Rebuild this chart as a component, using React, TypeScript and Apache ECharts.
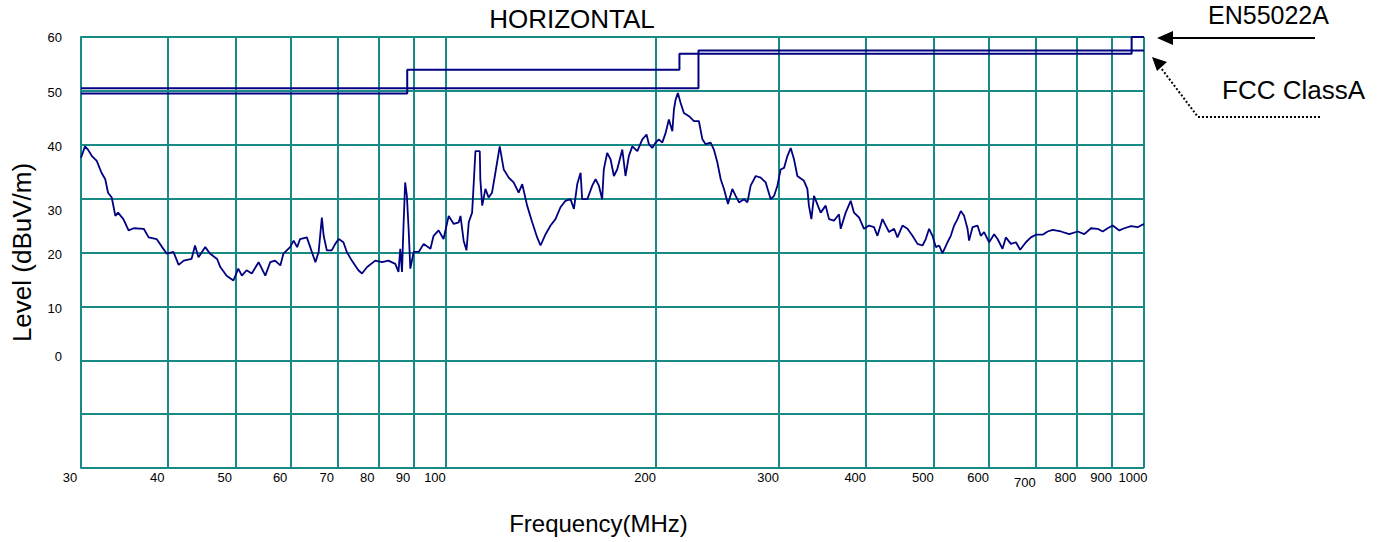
import React, { useEffect, useRef } from 'react';
import * as echarts from 'echarts';

// Measured trace (frequency in MHz, level in dBuV/m)
const freqMHz = [
  30, 30.4, 30.7, 31.1, 31.6, 32.1, 32.5, 32.8, 33.2, 33.6,
  33.9, 34.5, 35.1, 35.7, 36.9, 37.5, 38.5, 39.2, 39.8, 40.7,
  41.4, 42.1, 43.2, 43.7, 44.2, 45.2, 45.9, 47.0, 47.5, 48.5,
  49.6, 50.4, 51.0, 51.8, 52.7, 53.9, 55.1, 56.0, 56.9, 57.9,
  58.5, 59.8, 60.5, 61.2, 61.8, 63.2, 63.9, 65.0, 65.7, 66.4,
  66.8, 67.5, 68.6, 69.4, 70.2, 71.3, 72.1, 73.3, 74.9, 75.8,
  77.1, 79.2, 81.0, 82.7, 84.6, 85.5, 86.0, 86.5, 86.9, 87.4,
  87.9, 88.4, 88.9, 89.9, 91.4, 92.9, 95.0, 96.0, 97.6, 99.2,
  100.9, 102.6, 104.3, 104.9, 106.0, 107.0, 107.8, 109.0, 109.6, 110.2,
  111.8, 112.0, 112.7, 113.9, 115.1, 116.4, 117.7, 119.4, 121.0, 123.0,
  125.0, 127.1, 128.6, 130.7, 132.9, 135.1, 136.6, 138.9, 141.2, 143.5,
  145.9, 148.3, 150.8, 152.5, 154.2, 155.9, 156.7, 159.4, 162.0, 163.8,
  165.6, 167.4, 168.3, 170.2, 172.1, 174.0, 175.9, 178.9, 180.8, 182.8,
  184.9, 188.0, 191.1, 193.8, 195.3, 197.5, 199.7, 201.8, 204.1, 206.4,
  208.6, 211.0, 212.1, 213.3, 214.9, 216.8, 219.2, 222.9, 226.6, 230.3,
  233.0, 235.5, 239.4, 242.0, 244.8, 247.5, 250.2, 253.5, 257.2, 260.0,
  262.9, 267.2, 270.3, 273.2, 277.8, 282.4, 287.1, 291.9, 295.1, 298.4,
  301.6, 305.0, 308.4, 311.8, 315.2, 318.7, 325.7, 329.4, 331.1, 333.8,
  336.7, 344.2, 349.9, 353.8, 359.6, 365.6, 367.7, 373.8, 380.0, 384.2,
  390.6, 397.1, 403.7, 410.4, 415.1, 422.0, 426.6, 431.3, 438.5, 443.4,
  450.8, 458.3, 465.9, 473.7, 481.6, 486.8, 492.2, 497.7, 503.2, 508.7,
  514.4, 523.0, 528.7, 534.5, 540.5, 546.5, 552.4, 558.7, 561.6, 568.0,
  577.4, 583.7, 590.1, 600.0, 610.0, 616.9, 627.1, 634.0, 644.6, 655.3,
  664.7, 677.3, 688.6, 700.1, 715.7, 727.7, 739.8, 760.3, 781.5, 803.5,
  821.2, 839.6, 858.3, 872.6, 887.2, 901.9, 921.8, 937.1, 958.1, 979.5, 995.8, 1000,
];
const levelDb = [
  37.6, 39.7, 39.1, 37.9, 37.0, 34.8, 33.6, 31.1, 30.2, 26.8,
  27.4, 26.2, 24.1, 24.5, 24.4, 22.8, 22.5, 21.0, 19.8, 20.1,
  17.7, 18.5, 18.8, 21.3, 19.1, 21.0, 19.8, 18.8, 17.3, 15.7,
  14.8, 17.0, 15.7, 16.7, 16.1, 18.2, 15.7, 18.2, 18.5, 17.6,
  19.8, 21.0, 22.2, 21.0, 22.5, 22.8, 21.0, 18.2, 20.1, 26.5,
  23.1, 20.4, 20.4, 21.6, 22.5, 21.9, 20.1, 18.5, 16.7, 16.1,
  17.3, 18.5, 18.2, 18.5, 17.9, 16.4, 20.7, 16.4, 24.4, 33.0,
  30.5, 24.4, 17.0, 20.1, 20.1, 21.6, 20.7, 23.1, 24.1, 22.5,
  26.8, 25.3, 25.6, 26.8, 22.2, 20.4, 25.6, 27.4, 33.0, 38.8,
  38.8, 33.6, 28.7, 31.8, 30.2, 31.1, 34.8, 39.7, 35.4, 33.9,
  33.0, 31.1, 32.7, 28.7, 25.6, 22.8, 21.3, 23.4, 25.0, 26.2,
  28.4, 29.6, 29.9, 28.1, 32.7, 34.8, 29.9, 29.9, 32.4, 33.6,
  32.4, 29.9, 35.4, 38.5, 37.3, 34.2, 35.4, 39.1, 34.2, 37.9,
  39.7, 38.8, 41.0, 41.9, 40.1, 39.4, 40.4, 41.0, 40.4, 42.2,
  44.7, 42.5, 46.5, 48.4, 49.6, 47.8, 45.9, 45.3, 44.4, 44.4,
  41.0, 40.1, 40.4, 39.1, 36.7, 33.6, 31.8, 29.0, 31.8, 30.5,
  29.3, 29.9, 29.3, 32.4, 34.2, 33.9, 33.0, 29.9, 30.5, 32.4,
  35.4, 35.7, 37.9, 39.4, 37.3, 34.2, 33.3, 31.8, 28.7, 26.2,
  30.5, 27.4, 28.7, 26.2, 25.9, 27.1, 24.4, 27.4, 29.6, 27.4,
  26.5, 24.4, 25.0, 24.7, 23.1, 26.2, 25.0, 23.8, 24.4, 22.8,
  25.0, 24.4, 23.1, 21.6, 21.3, 22.5, 24.4, 23.1, 21.0, 21.3,
  19.9, 21.9, 23.1, 25.0, 26.2, 27.7, 26.8, 24.4, 22.2, 24.7,
  25.0, 23.1, 23.8, 21.9, 23.4, 22.5, 20.7, 22.8, 21.6, 21.9,
  20.5, 21.9, 22.8, 23.3, 23.3, 23.9, 24.2, 23.9, 23.4, 23.9,
  23.4, 24.5, 24.4, 23.9, 24.5, 25.0, 24.1, 24.5, 24.9, 24.7, 25.2, 25.2,
];

// Limit lines
const fccFreq = [30, 88, 88, 216, 216, 960, 960, 1000];
const fccLevel = [49.5, 49.5, 53.9, 53.9, 56.9, 56.9, 60, 60];
const enFreq = [30, 230, 230, 1000];
const enLevel = [50.5, 50.5, 57.5, 57.5];

// Axis ticks
const xTicks = [30, 40, 50, 60, 70, 80, 90, 100, 200, 300, 400, 500, 600, 700, 800, 900, 1000];
const yMin = -20;
const yMax = 60;
const yStep = 10;

const GRID = '#178a85';
const NAVY = '#000080';
const FONT = '"Liberation Sans", Arial, Helvetica, sans-serif';

const zip = (xs: number[], ys: number[]) => xs.map((x, i) => [x, ys[i]]);

export default function App() {
  const ref = useRef<HTMLDivElement>(null);
  useEffect(() => {
    if (!ref.current) return;
    const chart = echarts.init(ref.current, null, { renderer: 'svg' });
    const yRich: Record<string, any> = {
      p0: { fontSize: 13, fontFamily: FONT, color: '#000' },
      p2: { fontSize: 13, fontFamily: FONT, color: '#000', padding: [4, 0, 0, 0] },
      p10: { fontSize: 13, fontFamily: FONT, color: '#000', padding: [24, 0, 0, 0] },
      m4: { fontSize: 13, fontFamily: FONT, color: '#000', padding: [0, 0, 8, 0] },
    };
    chart.setOption({
      animation: false,
      backgroundColor: '#ffffff',
      textStyle: { fontFamily: FONT },
      grid: { left: 81, right: 244, top: 37, bottom: 74, containLabel: false },
      xAxis: {
        type: 'log',
        logBase: 10,
        min: 30,
        max: 1000,
        name: 'Frequency(MHz)',
        nameLocation: 'middle',
        nameGap: 43,
        nameTextStyle: { fontFamily: FONT, fontSize: 24, color: '#000', padding: [0, 28, 0, 0] },
        axisLine: { show: true, lineStyle: { color: GRID, width: 2 } },
        axisTick: { show: false, customValues: xTicks },
        splitLine: { show: true, lineStyle: { color: GRID, width: 2 } },
        minorTick: { show: false },
        minorSplitLine: { show: false },
        axisLabel: {
          customValues: xTicks,
          margin: 3,
          fontSize: 13,
          fontFamily: FONT,
          color: '#000',
          padding: [0, 22, 0, 0],
          formatter: (v: number) => {
            const r = Math.round(v);
            return r === 700 ? '{low|700}' : String(r);
          },
          rich: { low: { fontSize: 13, fontFamily: FONT, color: '#000', padding: [5, 0, 0, 0] } },
        },
      },
      yAxis: {
        type: 'value',
        min: yMin,
        max: yMax,
        interval: yStep,
        name: 'Level (dBuV/m)',
        nameLocation: 'middle',
        nameGap: 46,
        nameRotate: 90,
        nameTextStyle: { fontFamily: FONT, fontSize: 26, color: '#000' },
        axisLine: { show: true, lineStyle: { color: GRID, width: 2 } },
        axisTick: { show: false },
        splitLine: { show: true, lineStyle: { color: GRID, width: 2 } },
        axisLabel: {
          margin: 19,
          fontSize: 13,
          fontFamily: FONT,
          color: '#000',
          formatter: (v: number) => {
            if (v < 0) return '';
            if (v === 60) return `{p0|${v}}`;
            if (v === 30) return `{p10|${v}}`;
            if (v === 0) return `{m4|${v}}`;
            return `{p2|${v}}`;
          },
          rich: yRich,
        },
      },
      graphic: [
        {
          type: 'text',
          x: 572,
          y: 19,
          style: {
            text: 'HORIZONTAL', font: `26px ${FONT}`, fill: '#000',
            align: 'center', verticalAlign: 'middle', textAlign: 'center', textVerticalAlign: 'middle',
          },
        },
        {
          type: 'text',
          x: 1208,
          y: 15,
          style: {
            text: 'EN55022A', font: `25px ${FONT}`, fill: '#000',
            align: 'left', verticalAlign: 'middle', textAlign: 'left', textVerticalAlign: 'middle',
          },
        },
        {
          type: 'text',
          x: 1222,
          y: 90,
          style: {
            text: 'FCC ClassA', font: `26px ${FONT}`, fill: '#000',
            align: 'left', verticalAlign: 'middle', textAlign: 'left', textVerticalAlign: 'middle',
          },
        },
        {
          type: 'line',
          shape: { x1: 1315, y1: 38, x2: 1168, y2: 38 },
          style: { stroke: '#000', lineWidth: 2 },
        },
        {
          type: 'polygon',
          shape: { points: [[1157, 38], [1173, 31], [1173, 45]] },
          style: { fill: '#000' },
        },
        {
          type: 'polyline',
          shape: { points: [[1320, 117], [1198, 117], [1161, 68]] },
          style: { stroke: '#000', lineWidth: 2, lineDash: [2, 2], fill: 'none' },
        },
        {
          type: 'polygon',
          shape: { points: [[1152, 57], [1167, 62], [1157, 71]] },
          style: { fill: '#000' },
        },
      ],
      series: [
        {
          name: 'Level',
          type: 'line',
          data: zip(freqMHz, levelDb),
          showSymbol: false,
          symbol: 'none',
          lineStyle: { color: NAVY, width: 1.8 },
          z: 3,
        },
        {
          name: 'FCC ClassA',
          type: 'line',
          data: zip(fccFreq, fccLevel),
          showSymbol: false,
          symbol: 'none',
          lineStyle: { color: NAVY, width: 2 },
          z: 3,
        },
        {
          name: 'EN55022A',
          type: 'line',
          data: zip(enFreq, enLevel),
          showSymbol: false,
          symbol: 'none',
          lineStyle: { color: NAVY, width: 2 },
          z: 3,
        },
      ],
    });
    return () => chart.dispose();
  }, []);
  return (
    <div
      ref={ref}
      style={{ position: 'fixed', left: 0, top: 0, width: 1388, height: 542, background: '#fff' }}
    />
  );
}
